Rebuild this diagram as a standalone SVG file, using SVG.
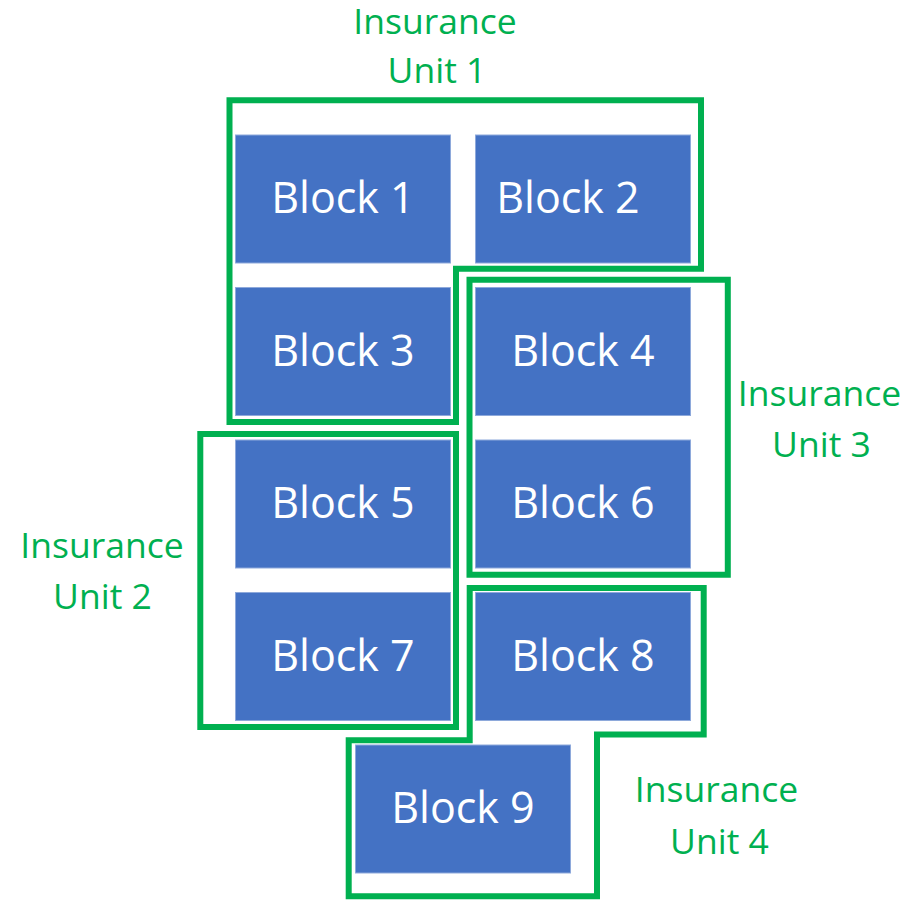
<svg xmlns="http://www.w3.org/2000/svg" width="908" height="902" viewBox="0 0 908 902">
  <style>
    .blk { fill: #4472C4; stroke: #8EA9DB; stroke-width: 1; }
    .bt { fill: #FFFFFF; font-family: "Open Sans", "Liberation Sans", sans-serif; font-size: 43px; text-anchor: middle; }
    .unit { fill: none; stroke: #00B050; stroke-width: 6; stroke-linejoin: miter; }
    .ut { fill: #00B050; font-family: "Open Sans", "Liberation Sans", sans-serif; font-size: 35.5px; text-anchor: middle; }
  </style>
  <rect x="0" y="0" width="908" height="902" fill="#FFFFFF"/>

  <g id="block1"><rect class="blk" x="235.5" y="135" width="215" height="128"/><text class="bt" x="343" y="213">Block 1</text></g>
  <g id="block2"><rect class="blk" x="475.5" y="135" width="215" height="128"/><text class="bt" x="568" y="213">Block 2</text></g>
  <g id="block3"><rect class="blk" x="235.5" y="287.5" width="215" height="128"/><text class="bt" x="343" y="365.5">Block 3</text></g>
  <g id="block4"><rect class="blk" x="475.5" y="287.5" width="215" height="128"/><text class="bt" x="583" y="365.5">Block 4</text></g>
  <g id="block5"><rect class="blk" x="235.5" y="440" width="215" height="128"/><text class="bt" x="343" y="518">Block 5</text></g>
  <g id="block6"><rect class="blk" x="475.5" y="440" width="215" height="128"/><text class="bt" x="583" y="518">Block 6</text></g>
  <g id="block7"><rect class="blk" x="235.5" y="592.5" width="215" height="128"/><text class="bt" x="343" y="670.5">Block 7</text></g>
  <g id="block8"><rect class="blk" x="475.5" y="592.5" width="215" height="128"/><text class="bt" x="583" y="670.5">Block 8</text></g>
  <g id="block9"><rect class="blk" x="355.5" y="745" width="215" height="128"/><text class="bt" x="463" y="822.5">Block 9</text></g>

  <g id="connectors">
    <g id="unit1">
      <path class="unit" d="M229.5,100.3 H701 V268.7 H456 V422 H229.5 Z"/>
      <text class="ut" x="435" y="33.5">Insurance</text>
      <text class="ut" x="437" y="83">Unit 1</text>
    </g>
    <g id="unit2">
      <path class="unit" d="M200.3,434 H456 V727 H200.3 Z"/>
      <text class="ut" x="102" y="557.5">Insurance</text>
      <text class="ut" x="102.5" y="609">Unit 2</text>
    </g>
    <g id="unit3">
      <path class="unit" d="M469.5,279.7 H727.8 V574.7 H469.5 Z"/>
      <text class="ut" x="819.5" y="406">Insurance</text>
      <text class="ut" x="821.5" y="457">Unit 3</text>
    </g>
    <g id="unit4">
      <path class="unit" d="M469.7,588 H703.7 V734.5 H597 V896.3 H348.7 V740.3 H469.7 Z"/>
      <text class="ut" x="716.5" y="802">Insurance</text>
      <text class="ut" x="719.5" y="854">Unit 4</text>
    </g>
  </g>
</svg>
